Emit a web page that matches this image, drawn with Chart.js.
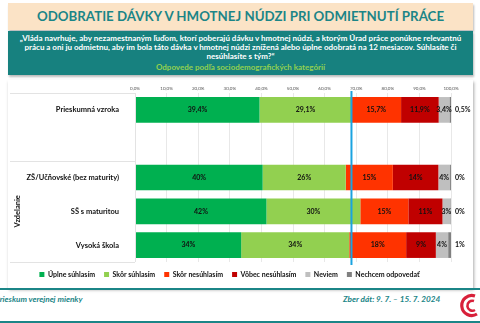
<!doctype html>
<html>
<head>
  <meta charset="utf-8">
  <title>Odobratie dávky v hmotnej núdzi</title>
  <script src="https://cdn.jsdelivr.net/npm/chart.js@4.4.1/dist/chart.umd.min.js"></script>
  <style>
    body { margin: 0; width: 480px; height: 323px; background: #fff; position: relative; overflow: hidden; font-family: Lato, "Open Sans", sans-serif; }
    .title { position: absolute; left: 8px; top: 3px; width: 465px; height: 27px; background: #fbe3c6; box-shadow: 1px 2px 2px #bbb;
      color: #1b8587; font-weight: bold; font-size: 13.3px; text-align: center; line-height: 27px; }
    .question { position: absolute; left: 8px; top: 31px; width: 465px; height: 44px; background: #17817f; box-shadow: 1px 2px 2px #bbb;
      color: #fff; font-weight: bold; font-size: 8px; text-align: center; line-height: 9px; padding-top: 3px; box-sizing: border-box; white-space: nowrap; }
    .question .sub { color: #92d050; font-size: 8px; display: block; margin-top: 2px; }
    .panel { position: absolute; left: 8px; top: 80px; width: 465px; height: 208px; background: #fff; box-shadow: 1px 2px 3px #aaa; }
    .line { position: absolute; left: 0; width: 480px; height: 2px; background: #1b8587; }
    .foot { position: absolute; top: 294px; color: #1b8587; font-weight: bold; font-style: italic; font-size: 8.2px; }
  </style>
</head>
<body>
  <div class="title">ODOBRATIE DÁVKY V HMOTNEJ NÚDZI PRI ODMIETNUTÍ PRÁCE</div>
  <div class="question">„Vláda navrhuje, aby nezamestnaným ľuďom, ktorí poberajú dávku v hmotnej núdzi, a ktorým Úrad práce ponúkne relevantnú<br>prácu a oni ju odmietnu, aby im bola táto dávka v hmotnej núdzi znížená alebo úplne odobratá na 12 mesiacov. Súhlasíte či<br>nesúhlasíte s tým?“<span class="sub">Odpovede podľa sociodemografických kategórií</span></div>
  <div class="panel"><canvas id="canvas" width="465" height="208"></canvas></div>
  <div class="line" style="top:288px"></div>
  <div class="line" style="top:321px"></div>
  <div class="foot" style="left:-5px">Prieskum verejnej mienky</div>
  <div class="foot" style="left:343px">Zber dát: 9. 7. – 15. 7. 2024</div>
  <svg style="position:absolute;left:459px;top:293px" width="21" height="25" viewBox="0 0 21 25">
    <path d="M16 3 A10 10 0 1 0 18 21" fill="none" stroke="#d8203a" stroke-width="3.2"/>
    <path d="M15 8 A5 5 0 1 0 16 17" fill="none" stroke="#d8203a" stroke-width="2.6"/>
  </svg>

  <script>
    var categories = ["Prieskumná vzroka", "", "ZŠ/Učňovské (bez maturity)", "SŠ s maturitou", "Vysoká škola"];
    var answers = ["Úplne súhlasím", "Skôr súhlasím", "Skôr nesúhlasím", "Vôbec nesúhlasím", "Neviem", "Nechcem odpovedať"];
    var colors = ["#00b050", "#92d050", "#ff3300", "#c00000", "#bfbfbf", "#808080"];
    // one array per answer, in category order (null = empty spacer row)
    var fullyAgree    = [39.4, null, 40.4, 41.6, 33.6];
    var ratherAgree   = [29.1, null, 26.3, 29.7, 34.2];
    var ratherDisagree= [15.7, null, 14.9, 15.2, 18.0];
    var fullyDisagree = [11.9, null, 14.4, 10.8, 9.4];
    var dontKnow      = [3.4, null, 3.7, 2.5, 3.9];
    var noAnswer      = [0.5, null, 0.3, 0.2, 0.9];
    var series = [fullyAgree, ratherAgree, ratherDisagree, fullyDisagree, dontKnow, noAnswer];
    var xTicks = [0, 10, 20, 30, 40, 50, 60, 70, 80, 90, 100];
    var groupName = "Vzdelanie";

    function fmt(v, row) {
      if (row === 0) return v.toFixed(1).replace(".", ",") + "%";
      return Math.round(v) + "%";
    }

    var labelPlugin = {
      id: "labels",
      afterDatasetsDraw: function (chart) {
        var c = chart.ctx;
        c.save();
        c.font = "bold 7px Lato";
        c.fillStyle = "#111";
        c.textBaseline = "middle";
        chart.data.datasets.forEach(function (ds, di) {
          var meta = chart.getDatasetMeta(di);
          meta.data.forEach(function (bar, i) {
            var v = ds.data[i];
            if (v === null) return;
            if (di === series.length - 1) {
              c.textAlign = "left";
              c.fillText(fmt(v, i), bar.x + 4, bar.y);
            } else {
              c.textAlign = "center";
              c.fillText(fmt(v, i), (bar.x + bar.base) / 2, bar.y);
            }
          });
        });
        c.restore();
      },
      afterDraw: function (chart) {
        var c = chart.ctx, y = chart.scales.y, x = chart.scales.x, area = chart.chartArea;
        var half = (y.getPixelForValue(1) - y.getPixelForValue(0)) / 2;
        c.save();
        // group lines in the label column
        c.strokeStyle = "#e3e3e3";
        c.lineWidth = 1;
        [y.getPixelForValue(0) - half, y.getPixelForValue(2) - half, y.getPixelForValue(4) + half].forEach(function (py) {
          c.beginPath();
          c.moveTo(2, Math.round(py) + 0.5);
          c.lineTo(area.left, Math.round(py) + 0.5);
          c.stroke();
        });
        c.beginPath();
        c.moveTo(area.left + 0.5, area.top);
        c.lineTo(area.left + 0.5, area.bottom);
        c.stroke();
        // group name
        c.translate(10, (y.getPixelForValue(2) + y.getPixelForValue(4)) / 2);
        c.rotate(-Math.PI / 2);
        c.font = "bold 7.5px Lato";
        c.fillStyle = "#111";
        c.textAlign = "center";
        c.textBaseline = "middle";
        c.fillText(groupName, 0, 0);
        c.restore();
        // reference line at total agree of the sample
        var px = x.getPixelForValue(fullyAgree[0] + ratherAgree[0]);
        c.save();
        c.strokeStyle = "#1aa3e0";
        c.lineWidth = 2;
        c.beginPath();
        c.moveTo(px, area.top - 2);
        c.lineTo(px, area.bottom + 3);
        c.stroke();
        c.restore();
      }
    };

    new Chart("canvas", {
      type: "bar",
      data: {
        labels: categories,
        datasets: series.map(function (d, i) {
          return { label: answers[i], data: d, backgroundColor: colors[i], barPercentage: 0.76, categoryPercentage: 1 };
        })
      },
      options: {
        indexAxis: "y",
        responsive: false,
        animation: false,
        layout: { padding: { right: 22, top: 0, bottom: 0 } },
        plugins: {
          legend: {
            position: "bottom",
            labels: { boxWidth: 5, boxHeight: 5, padding: 9, color: "#111", font: { size: 7, weight: "bold", family: "Lato" } }
          },
          tooltip: { enabled: false }
        },
        scales: {
          x: {
            stacked: true, position: "top", min: 0, max: 100,
            afterBuildTicks: function (s) { s.ticks = xTicks.map(function (v) { return { value: v }; }); },
            ticks: { color: "#555", font: { size: 4.5, family: "Lato" }, padding: 2,
              callback: function (v) { return v.toFixed(1).replace(".", ",") + "%"; } },
            grid: { color: "#e8e8e8", drawTicks: false },
            border: { display: false },
            afterFit: function (s) { s.height = 13; }
          },
          y: {
            stacked: true,
            ticks: { color: "#111", font: { size: 7.5, weight: "bold", family: "Lato" }, padding: 8 },
            grid: { display: false },
            border: { display: false },
            afterFit: function (s) { s.width = 127; }
          }
        }
      },
      plugins: [labelPlugin]
    });
  </script>
</body>
</html>
